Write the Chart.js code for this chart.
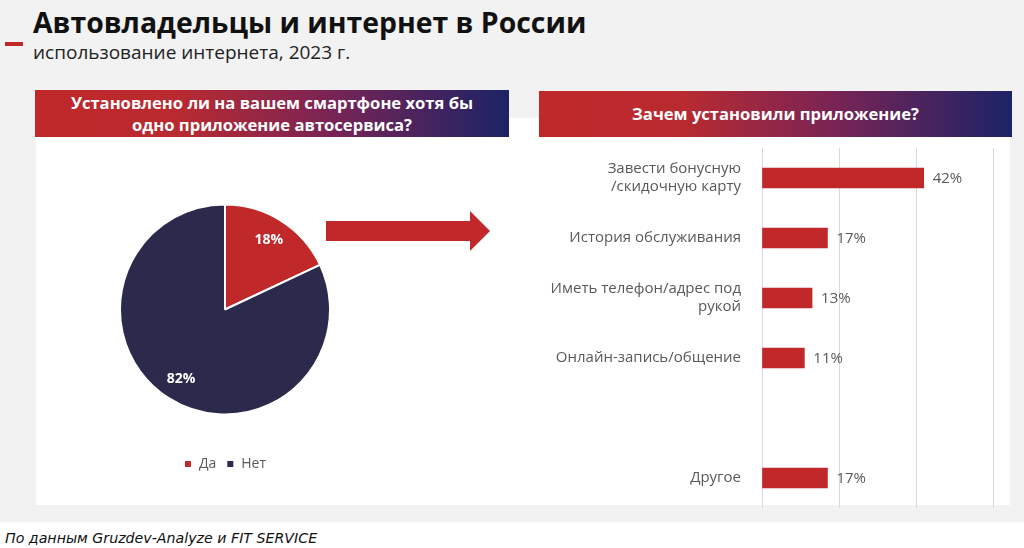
<!DOCTYPE html>
<html lang="ru">
<head>
<meta charset="utf-8">
<script src="https://cdn.jsdelivr.net/npm/chart.js@4.4.0/dist/chart.umd.min.js"></script>
<style>
    body { margin: 0; width: 1024px; height: 548px; background: #fff; font-family: "Open Sans", sans-serif; position: relative; overflow: hidden; }
    #slide { position: absolute; left: 0; top: 0; width: 1024px; height: 522px; background: #f2f2f2; }
    .abs { position: absolute; }
    #title { left: 33px; top: 8px; font-size: 28.4px; font-weight: 700; line-height: 1; color: #111; white-space: nowrap; }
    #subtitle { left: 33px; top: 43px; font-size: 19px; line-height: 1; color: #222; white-space: nowrap; }
    #dash { left: 5px; top: 42px; width: 18px; height: 4px; background: #c0282a; }
    #panel { left: 36px; top: 118px; width: 974px; height: 387px; background: #fff; }
    .bar-head { background: linear-gradient(90deg, #c0282a 0%, #b92a30 30%, #7a2455 62%, #1c2366 100%);
        color: #fff; font-weight: 700; font-size: 16.6px; line-height: 22px; text-align: center;
        display: flex; align-items: center; justify-content: center; }
    #headLeft { left: 35px; top: 90px; width: 474px; height: 47px; }
    #headRight { left: 539px; top: 91px; width: 473px; height: 46px; }
    #arrow { left: 320px; top: 205px; }
    #pieBox { left: 119px; top: 172px; width: 212px; height: 309px; }
    #barBox { left: 540px; top: 140px; width: 470px; height: 370px; }
    #source { left: 5px; top: 531px; font-family: "DejaVu Sans", sans-serif; font-style: italic; font-size: 14.2px; line-height: 1; color: #111; white-space: nowrap; }
</style>
</head>
<body>
<div id="slide"></div>
<div id="title" class="abs">Автовладельцы и интернет в России</div>
<div id="dash" class="abs"></div>
<div id="subtitle" class="abs">использование интернета, 2023 г.</div>
<div id="panel" class="abs"></div>
<div id="headLeft" class="abs bar-head">Установлено ли на вашем смартфоне хотя бы<br>одно приложение автосервиса?</div>
<div id="headRight" class="abs bar-head">Зачем установили приложение?</div>
<svg id="arrow" class="abs" width="175" height="52">
    <polygon points="6,16 150,16 150,6 170,26 150,46 150,36 6,36" fill="#c0282a"/>
</svg>
<div id="pieBox" class="abs"><canvas id="pieChart"></canvas></div>
<div id="barBox" class="abs"><canvas id="barChart"></canvas></div>
<div id="source" class="abs">По данным Gruzdev-Analyze и FIT SERVICE</div>

<script>
const pieLabels = ['Да', 'Нет'];
const pieValues = [18, 82];
const pieColors = ['#c0282a', '#2b2a4c'];

const reasonLabels = [
    ['Завести бонусную', '/скидочную карту'],
    'История обслуживания',
    ['Иметь телефон/адрес под', 'рукой'],
    'Онлайн-запись/общение',
    '',
    'Другое'
];
const reasonValues = [42, 17, 13, 11, null, 17];
const xTicks = [0, 20, 40, 60];

const GRAY = '#595959';

// draws "NN%" next to bars / inside pie slices
const valueLabels = {
    id: 'valueLabels',
    afterDatasetsDraw(chart, args, opts) {
        const ctx = chart.ctx;
        const meta = chart.getDatasetMeta(0);
        const values = chart.data.datasets[0].data;
        ctx.save();
        ctx.font = opts.font;
        ctx.fillStyle = opts.color;
        ctx.textBaseline = 'middle';
        meta.data.forEach((el, i) => {
            const v = values[i];
            if (v == null) return;
            if (opts.mode === 'pie') {
                const p = el.getProps(['x', 'y', 'startAngle', 'endAngle', 'outerRadius'], true);
                const mid = (p.startAngle + p.endAngle) / 2;
                const r = p.outerRadius * 0.78;
                ctx.textAlign = 'center';
                ctx.fillText(v + '%', p.x + Math.cos(mid) * r, p.y + Math.sin(mid) * r);
            } else {
                const p = el.getProps(['x', 'y'], true);
                ctx.textAlign = 'left';
                ctx.fillText(v + '%', p.x + 9, p.y + 1);
            }
        });
        ctx.restore();
    }
};

new Chart(document.getElementById('pieChart'), {
    type: 'pie',
    data: {
        labels: pieLabels,
        datasets: [{ data: pieValues, backgroundColor: pieColors, borderColor: '#fff', borderWidth: 2 }]
    },
    options: {
        responsive: true,
        maintainAspectRatio: false,
        animation: false,
        layout: { padding: 0 },
        plugins: {
            legend: {
                position: 'bottom',
                labels: { color: GRAY, font: { family: 'Open Sans', size: 14 }, boxWidth: 8, boxHeight: 8, padding: 10 }
            },
            tooltip: { enabled: false },
            valueLabels: { mode: 'pie', font: 'bold 14px "Open Sans"', color: '#fff' }
        }
    },
    plugins: [valueLabels]
});

new Chart(document.getElementById('barChart'), {
    type: 'bar',
    data: {
        labels: reasonLabels,
        datasets: [{ data: reasonValues, backgroundColor: '#c0282a', barThickness: 20 }]
    },
    options: {
        indexAxis: 'y',
        responsive: true,
        maintainAspectRatio: false,
        animation: false,
        layout: { padding: { top: 8, right: 17, bottom: 2, left: 0 } },
        scales: {
            x: {
                min: xTicks[0],
                max: xTicks[xTicks.length - 1],
                afterBuildTicks: (scale) => { scale.ticks = xTicks.map(v => ({ value: v })); },
                ticks: { display: false },
                grid: { color: '#d9d9d9', drawTicks: false },
                border: { display: false }
            },
            y: {
                afterFit: (scale) => {
                    scale.width = 222;
                    // labels sit inside their categories, no extra room needed
                    scale.paddingTop = 0;
                    scale.paddingBottom = 0;
                },
                ticks: { color: GRAY, font: { family: 'Open Sans', size: 15 }, padding: 21 },
                grid: { display: false, drawTicks: false },
                border: { display: false }
            }
        },
        plugins: {
            legend: { display: false },
            tooltip: { enabled: false },
            valueLabels: { mode: 'bar', font: '15px "Open Sans"', color: GRAY }
        }
    },
    plugins: [valueLabels]
});
</script>
</body>
</html>
